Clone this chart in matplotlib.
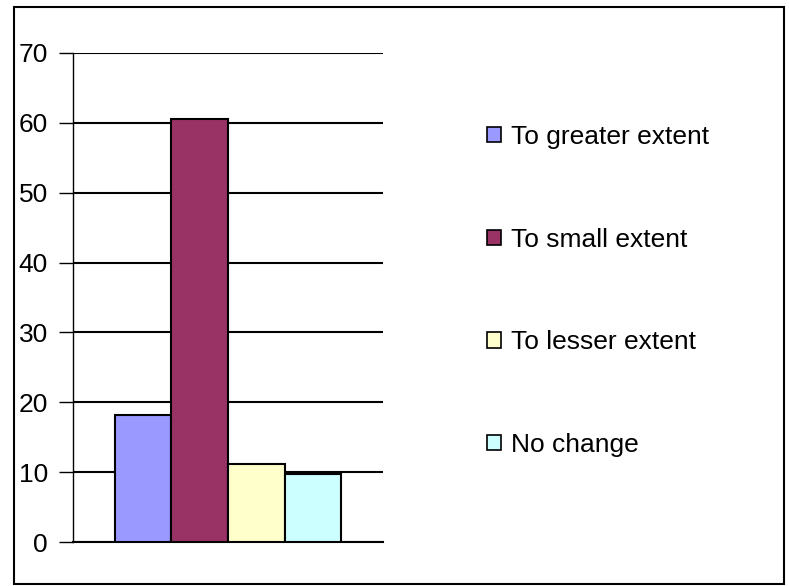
import matplotlib
matplotlib.use("Agg")
import matplotlib.pyplot as plt
from matplotlib.patches import Rectangle, Patch

categories = ["To greater extent", "To small extent", "To lesser extent", "No change"]
values = [18.2, 60.5, 11.1, 9.7]
colors = ["#9999FF", "#993366", "#FFFFCC", "#CCFFFF"]
yticks = [0, 10, 20, 30, 40, 50, 60, 70]

plt.rcParams['font.family'] = ['Liberation Sans', 'DejaVu Sans']

W, H = 789, 586
fig = plt.figure(figsize=(W / 100, H / 100), dpi=100)
fig.patch.set_facecolor("white")

# outer border
fig.patches.append(Rectangle((14 / W, 1 - 584 / H), (784 - 14) / W, (584 - 7) / H,
                             transform=fig.transFigure, fill=False,
                             edgecolor="black", linewidth=1.5))

ax = fig.add_axes([73 / W, 1 - 542 / H, (383 - 73) / W, (542 - 53) / H])
x = list(range(len(values)))
bars = ax.bar(x, values, width=1.0, color=colors, edgecolor="black", linewidth=1.5, zorder=3)

ax.set_ylim(0, 70)
ax.set_xlim(-1.24, 4.24)
ax.set_yticks(yticks)
ax.set_xticks([])
ax.yaxis.grid(True, color="black", linewidth=1.5, zorder=0)
ax.set_axisbelow(True)
for s in ["top", "right"]:
    ax.spines[s].set_visible(False)
ax.spines["left"].set_linewidth(1.0)
ax.spines["bottom"].set_linewidth(1.5)
ax.tick_params(axis="y", length=10, width=1.0, labelsize=19, pad=8, direction="out")

handles = [Patch(facecolor=c, edgecolor="black", linewidth=1.2) for c in colors]
fig.legend(handles, categories, loc="upper left",
           bbox_to_anchor=(487 / W, 1 - 125 / H), frameon=False,
           fontsize=19, labelspacing=2.98, handlelength=0.52, handleheight=0.52,
           handletextpad=0.4, borderpad=0, borderaxespad=0)

fig.savefig("out.png", dpi=100, facecolor="white")
